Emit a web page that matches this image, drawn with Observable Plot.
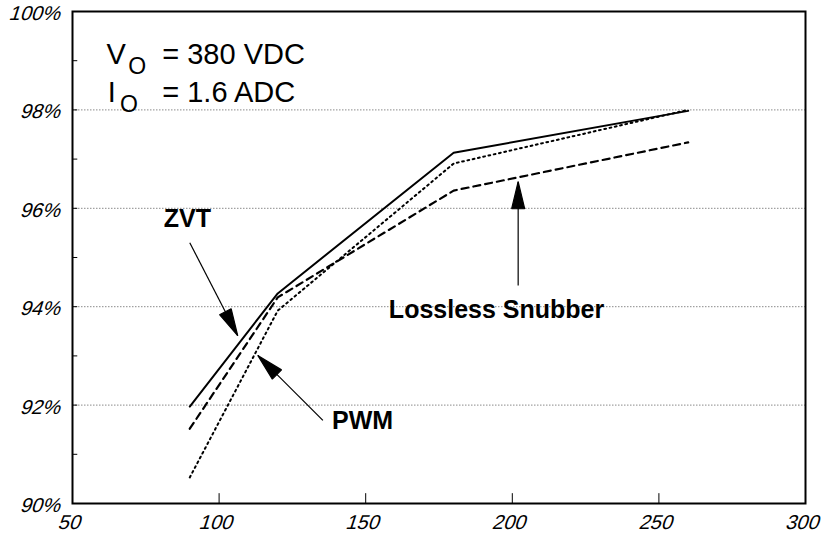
<!DOCTYPE html>
<html>
<head>
<meta charset="utf-8">
<script src="https://cdn.jsdelivr.net/npm/d3@7"></script>
<script src="https://cdn.jsdelivr.net/npm/@observablehq/plot@0.6"></script>
<style>
  html, body { margin: 0; padding: 0; background: #fff; }
  svg { font-family: "Liberation Sans", Arial, Helvetica, sans-serif; }
</style>
</head>
<body>
<div id="chart"></div>
<script>
// ---- data ----
const load = [90, 120, 180, 260];
const zvt = [91.97, 94.27, 97.13, 97.98];
const pwm = [90.53, 93.92, 96.91, 98.0];
const snubber = [91.52, 94.19, 96.36, 97.34];

const xTicks = [50, 100, 150, 200, 250, 300];
const yTicks = [90, 92, 94, 96, 98, 100];
const xInnerTicks = [100, 150, 200, 250];
const yMinorTicks = [91, 92, 93, 94, 95, 96, 97, 98, 99];
const gridLines = [92, 94, 96, 98];

// annotation arrows (tail -> tip), data units
const arrows = [
  {x1: 90.0, y1: 95.30, x2: 106.35, y2: 93.41},   // ZVT
  {x1: 135.4, y1: 91.69, x2: 113.2, y2: 93.01},   // PWM
  {x1: 202.0, y1: 94.43, x2: 202.0, y2: 96.54}    // Lossless Snubber
];
const labels = [
  {text: "ZVT", x: 81.1, y: 95.61},
  {text: "PWM", x: 138.5, y: 91.52},
  {text: "Lossless Snubber", x: 157.9, y: 93.78}
];
const condMain = [
  {text: "V", x: 61.6, y: 98.94},
  {text: "= 380 VDC", x: 80.6, y: 98.94},
  {text: "I", x: 62.0, y: 98.17},
  {text: "= 1.6 ADC", x: 80.6, y: 98.17}
];
const condSub = [
  {text: "O", x: 69.0, y: 98.72},
  {text: "O", x: 66.2, y: 97.95}
];

const rows = (vals) => load.map((x, i) => ({x, y: vals[i]}));

// slant tick labels (oblique)
function slant(index, scales, values, dimensions, context, next) {
  const g = next(index, scales, values, dimensions, context);
  g.querySelectorAll("text").forEach((el) => {
    const t = el.getAttribute("transform") || "";
    el.setAttribute("transform", t + " skewX(-18)");
    el.style.fontStyle = "normal";
  });
  return g;
}

const plot = Plot.plot({
  width: 829,
  height: 537,
  marginLeft: 72,
  marginRight: 24,
  marginTop: 11,
  marginBottom: 34,
  style: {fontFamily: "'Liberation Sans', Arial, Helvetica, sans-serif", fontSize: "19px", background: "#fff"},
  x: {domain: [50, 300], axis: null},
  y: {domain: [90, 100], axis: null},
  marks: [
    Plot.ruleY(gridLines, {stroke: "#8a8a8a", strokeWidth: 1, strokeDasharray: "1.5,1.5"}),
    Plot.ruleX(xInnerTicks, {y1: 90, y2: 90.2, stroke: "black", strokeWidth: 1}),
    Plot.ruleY(yMinorTicks, {x1: 50, x2: 51.8, stroke: "black", strokeWidth: 1}),
    Plot.text(xTicks, {x: d => d, y: 90, dy: 19, dx: -2, text: d => String(d), textAnchor: "middle", lineAnchor: "middle", fontSize: 20, fill: "black", render: slant}),
    Plot.text(yTicks, {x: 50, y: d => d, dx: -11, dy: 2, text: d => d + "%", textAnchor: "end", lineAnchor: "middle", fontSize: 20, fill: "black", render: slant}),
    Plot.line(rows(zvt), {x: "x", y: "y", stroke: "black", strokeWidth: 2}),
    Plot.line(rows(snubber), {x: "x", y: "y", stroke: "black", strokeWidth: 2.2, strokeDasharray: "7,5"}),
    Plot.line(rows(pwm), {x: "x", y: "y", stroke: "black", strokeWidth: 2, strokeDasharray: "1.8,3.6"}),
    Plot.link(arrows, {
      x1: "x1", y1: "y1", x2: "x2", y2: "y2", stroke: "black", strokeWidth: 1.2,
      render(index, scales, values, dimensions, context, next) {
        const g = next(index, scales, values, dimensions, context);
        const {x1: X1, y1: Y1, x2: X2, y2: Y2} = values;
        const L = 27, W = 6.5;
        for (const i of index) {
          const dx = X2[i] - X1[i], dy = Y2[i] - Y1[i];
          const n = Math.hypot(dx, dy), ux = dx / n, uy = dy / n;
          const bx = X2[i] - ux * L, by = Y2[i] - uy * L;
          const px = -uy * W, py = ux * W;
          d3.select(g).append("path")
            .attr("d", `M${X2[i]},${Y2[i]}L${bx + px},${by + py}L${bx - px},${by - py}Z`)
            .attr("fill", "black");
        }
        return g;
      }
    }),
    Plot.text(labels, {x: "x", y: "y", text: "text", textAnchor: "start", lineAnchor: "bottom", fontWeight: "bold", fontSize: 25, fill: "black"}),
    Plot.text(condMain, {x: "x", y: "y", text: "text", textAnchor: "start", lineAnchor: "bottom", fontSize: 29, fill: "black"}),
    Plot.text(condSub, {x: "x", y: "y", text: "text", textAnchor: "start", lineAnchor: "bottom", fontSize: 23, fill: "black"}),
    Plot.frame({stroke: "black", strokeWidth: 2})
  ]
});
document.getElementById("chart").appendChild(plot);
</script>
</body>
</html>
